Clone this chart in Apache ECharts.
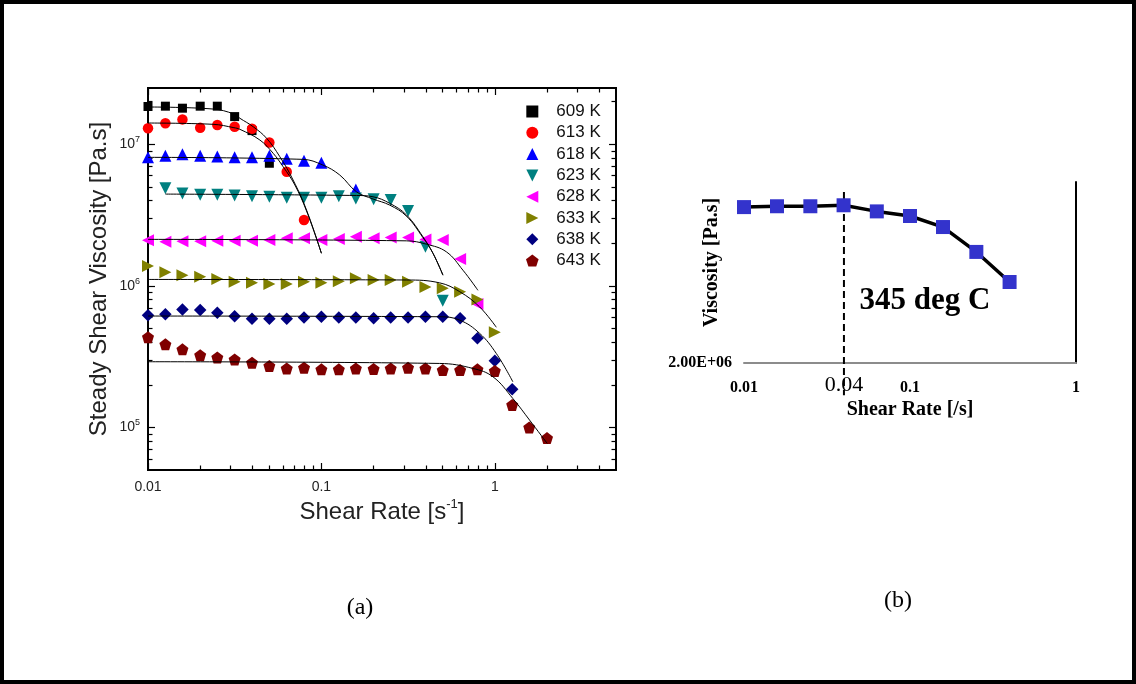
<!DOCTYPE html>
<html>
<head>
<meta charset="utf-8">
<script src="https://cdn.jsdelivr.net/npm/echarts@6/dist/echarts.min.js"></script>
<style>
html, body { margin: 0; padding: 0; background: #fff; }
#main { width: 1136px; height: 684px; }
</style>
</head>
<body>
<div id="main"></div>
<script>
// ---- panel (a): measured points, shear rate grid (s^-1), 10 per decade
var rates = [0.01, 0.0126, 0.0158, 0.02, 0.0251, 0.0316, 0.0398, 0.0501, 0.0631, 0.0794,
             0.1, 0.126, 0.158, 0.2, 0.251, 0.316, 0.398, 0.501, 0.631, 0.794,
             1.0, 1.26, 1.58, 2.0];

// viscosity (Pa.s) per temperature, aligned with rates, null = no point
var visc609 = [1.85e7, 1.86e7, 1.80e7, 1.86e7, 1.86e7, 1.57e7, 1.25e7, 7.35e6];
var visc613 = [1.30e7, 1.41e7, 1.50e7, 1.31e7, 1.37e7, 1.33e7, 1.29e7, 1.03e7, 6.4e6, 2.92e6];
var visc618 = [8.1e6, 8.3e6, 8.5e6, 8.3e6, 8.2e6, 8.1e6, 8.1e6, 8.3e6, 7.9e6, 7.65e6, 7.4e6, null, 4.8e6];
var visc623 = [null, 4.9e6, 4.5e6, 4.4e6, 4.4e6, 4.35e6, 4.3e6, 4.27e6, 4.2e6, 4.2e6, 4.2e6, 4.3e6,
               4.15e6, 4.1e6, 4.05e6, 3.38e6, 1.89e6, 7.85e5];
var visc628 = [2.1e6, 2.05e6, 2.07e6, 2.07e6, 2.08e6, 2.08e6, 2.08e6, 2.11e6, 2.17e6, 2.17e6,
               2.11e6, 2.14e6, 2.22e6, 2.17e6, 2.2e6, 2.2e6, 2.13e6, 2.11e6, 1.55e6, 7.44e5];
var visc633 = [1.38e6, 1.25e6, 1.19e6, 1.16e6, 1.12e6, 1.07e6, 1.05e6, 1.03e6, 1.03e6, 1.07e6,
               1.05e6, 1.08e6, 1.13e6, 1.10e6, 1.10e6, 1.07e6, 9.8e5, 9.6e5, 9.1e5, 8.0e5, 4.7e5];
var visc638 = [6.2e5, 6.3e5, 6.8e5, 6.75e5, 6.45e5, 6.1e5, 5.85e5, 5.85e5, 5.85e5, 5.98e5,
               6.05e5, 5.98e5, 5.98e5, 5.9e5, 5.98e5, 5.98e5, 6.05e5, 6.05e5, 5.9e5, 4.26e5, 2.96e5, 1.86e5];
var visc643 = [4.33e5, 3.86e5, 3.56e5, 3.24e5, 3.12e5, 3.02e5, 2.86e5, 2.72e5, 2.61e5, 2.64e5,
               2.57e5, 2.57e5, 2.61e5, 2.59e5, 2.61e5, 2.64e5, 2.61e5, 2.54e5, 2.54e5, 2.57e5,
               2.5e5, 1.44e5, 1.0e5, 8.4e4];

// fitted model curves
var fitRate609 = [0.01, 0.0237, 0.0313, 0.0339, 0.0404, 0.0483, 0.0576, 0.0687, 0.0821, 0.1];
var fitVisc609 = [1.835e7, 1.776e7, 1.638e7, 1.527e7, 1.332e7, 1.103e7, 8.17e6, 5.59e6, 3.43e6, 1.70e6];
var fitRate613 = [0.01, 0.0237, 0.0313, 0.0339, 0.0442, 0.0527, 0.0602, 0.0703, 0.0821, 0.1];
var fitVisc613 = [1.414e7, 1.385e7, 1.311e7, 1.276e7, 1.072e7, 8.64e6, 6.94e6, 5.16e6, 3.38e6, 1.70e6];
var fitRate618 = [0.01, 0.0781, 0.1019, 0.1276, 0.1593, 0.1985, 0.2477, 0.3093, 0.3853, 0.4399, 0.5023];
var fitVisc618 = [8.09e6, 7.83e6, 7.14e6, 6.07e6, 4.62e6, 4.11e6, 3.72e6, 3.11e6, 2.19e6, 1.70e6, 1.19e6];
var fitRate623 = [0.0126, 0.1593, 0.1985, 0.2477, 0.3093, 0.3853, 0.4399, 0.5023];
var fitVisc623 = [4.45e6, 4.35e6, 4.26e6, 3.83e6, 3.17e6, 2.22e6, 1.70e6, 1.19e6];
var fitRate628 = [0.01, 0.3093, 0.4031, 0.5255, 0.6552, 0.7993];
var fitVisc628 = [2.13e6, 2.08e6, 1.97e6, 1.74e6, 1.29e6, 9.3e5];
var fitRate633 = [0.01, 0.3093, 0.4808, 0.627, 0.8173, 1.02];
var fitVisc633 = [1.11e6, 1.10e6, 1.05e6, 9.1e5, 7.1e5, 5.1e5];
var fitRate638 = [0.01, 0.4808, 0.627, 0.8173, 1.02, 1.271];
var fitVisc638 = [6.12e5, 6.05e5, 5.73e5, 4.62e5, 3.33e5, 2.10e5];
var fitRate643 = [0.01, 0.4808, 0.7477, 0.975, 1.271, 1.587, 2.007];
var fitVisc643 = [2.91e5, 2.83e5, 2.61e5, 2.28e5, 1.60e5, 1.126e5, 7.7e4];

var tempNames = ['609 K', '613 K', '618 K', '623 K', '628 K', '633 K', '638 K', '643 K'];

// axis ticks of panel (a)
var xMajor = [0.01, 0.1, 1];
var xMajorLabels = ['0.01', '0.1', '1'];
var xMinor = [0.02, 0.03, 0.04, 0.05, 0.06, 0.07, 0.08, 0.09,
              0.2, 0.3, 0.4, 0.5, 0.6, 0.7, 0.8, 0.9, 2, 3, 4];
var yMajor = [1e5, 1e6, 1e7];
var yMinor = [6e4, 7e4, 8e4, 9e4, 2e5, 3e5, 4e5, 5e5, 6e5, 7e5, 8e5, 9e5,
              2e6, 3e6, 4e6, 5e6, 6e6, 7e6, 8e6, 9e6, 2e7];

// ---- panel (b): 345 deg C
var ratesB = [0.01, 0.0158, 0.0251, 0.0398, 0.0631, 0.1, 0.158, 0.251, 0.398];
var viscB = [8.0e6, 8.06e6, 8.06e6, 8.13e6, 7.7e6, 7.39e6, 6.7e6, 5.37e6, 4.11e6];
var onsetRate = [0.04, 0.04];
var onsetSpan = [9.15e6, 1.5e6];
var xTicksB = [0.01, 0.04, 0.1, 1];
var xLabelsB = ['0.01', '0.04', '0.1', '1'];
var yTicksB = [2e6];
var yLabelsB = ['2.00E+06'];

function pairs(xs, ys) {
    var out = [];
    for (var i = 0; i < ys.length; i++) {
        if (ys[i] != null) out.push([xs[i], ys[i]]);
    }
    return out;
}
function nearestLabel(v, values, labels) {
    var best = 0;
    for (var i = 1; i < values.length; i++) {
        if (Math.abs(Math.log(values[i] / v)) < Math.abs(Math.log(values[best] / v))) best = i;
    }
    return labels[best];
}

var sans = '"Liberation Sans", Arial, sans-serif';
var serif = '"Liberation Serif", "Times New Roman", serif';

var colors = ['#000000', '#ff0000', '#0000ff', '#008080', '#ff00ff', '#808000', '#000080', '#800000'];
var symbols = [
    'path://M0,0H10V10H0Z',
    'circle',
    'path://M5,0L10,10L0,10Z',
    'path://M0,0L10,0L5,10Z',
    'path://M10,0L10,10L0,5Z',
    'path://M0,0L10,5L0,10Z',
    'path://M5,0L10,5L5,10L0,5Z',
    'path://M5,0L10,3.6L8.1,9.5L1.9,9.5L0,3.6Z'
];
var sizes = [9, 10.5, 12, 12, 12, 12, 12.5, 12];
var allVisc = [visc609, visc613, visc618, visc623, visc628, visc633, visc638, visc643];
var allFitRate = [fitRate609, fitRate613, fitRate618, fitRate623, fitRate628, fitRate633, fitRate638, fitRate643];
var allFitVisc = [fitVisc609, fitVisc613, fitVisc618, fitVisc623, fitVisc628, fitVisc633, fitVisc638, fitVisc643];

function frameAxis(dim, pos, ticks, len, withLabels) {
    var ax = {
        type: 'log',
        logBase: 10,
        gridIndex: 0,
        position: pos,
        min: dim === 'x' ? 0.01 : 5e4,
        max: dim === 'x' ? 5 : 2.5e7,
        axisLine: { show: true, onZero: false, lineStyle: { color: '#000', width: 1.8 } },
        axisTick: { show: true, inside: true, length: len, customValues: ticks,
                    lineStyle: { color: '#000', width: 1.2 } },
        axisLabel: { show: false },
        splitLine: { show: false },
        minorTick: { show: false },
        minorSplitLine: { show: false }
    };
    if (withLabels && dim === 'x') {
        ax.axisLabel = {
            show: true, customValues: xMajor, margin: 10,
            color: '#222', fontFamily: sans, fontSize: 14,
            formatter: function (v) { return nearestLabel(v, xMajor, xMajorLabels); }
        };
        ax.name = 'Shear Rate [s{sup|-1}]';
        ax.nameLocation = 'middle';
        ax.nameGap = 42;
        ax.nameMoveOverlap = false;
        ax.nameTextStyle = {
            color: '#222', fontFamily: sans, fontSize: 24, verticalAlign: 'middle', lineHeight: 28,
            rich: { sup: { fontFamily: sans, fontSize: 13, lineHeight: 12, verticalAlign: 'top', color: '#222' } }
        };
    }
    if (withLabels && dim === 'y') {
        ax.axisLabel = {
            show: true, customValues: yMajor, margin: 8,
            formatter: function (v) { return '{b|10}{s|' + Math.round(Math.log10(v)) + '}'; },
            rich: {
                b: { fontFamily: sans, fontSize: 14, color: '#222', lineHeight: 18 },
                s: { fontFamily: sans, fontSize: 9, color: '#222', lineHeight: 8, verticalAlign: 'top' }
            }
        };
        ax.name = 'Steady Shear Viscosity [Pa.s]';
        ax.nameLocation = 'middle';
        ax.nameGap = 49;
        ax.nameMoveOverlap = false;
        ax.nameTextStyle = { color: '#222', fontFamily: sans, fontSize: 24, verticalAlign: 'middle' };
    }
    return ax;
}

var series = [];
for (var i = 0; i < tempNames.length; i++) {
    series.push({
        name: tempNames[i], type: 'scatter', xAxisIndex: 0, yAxisIndex: 0,
        symbol: symbols[i], symbolSize: sizes[i], z: 2,
        itemStyle: { color: colors[i], opacity: 1 },
        data: pairs(rates, allVisc[i])
    });
}
for (var j = 0; j < tempNames.length; j++) {
    series.push({
        name: 'fit ' + tempNames[j], type: 'line', xAxisIndex: 0, yAxisIndex: 0,
        showSymbol: false, symbol: 'none', smooth: 0.4, z: 3, silent: true,
        lineStyle: { color: '#000', width: 1 },
        data: pairs(allFitRate[j], allFitVisc[j])
    });
}
series.push({
    name: 'onset', type: 'line', xAxisIndex: 4, yAxisIndex: 4, clip: false,
    showSymbol: false, symbol: 'none', silent: true, z: 1,
    lineStyle: { color: '#000', width: 2, type: [7, 4] },
    data: pairs(onsetRate, onsetSpan)
});
series.push({
    name: '345 deg C', type: 'line', xAxisIndex: 4, yAxisIndex: 4,
    symbol: 'rect', symbolSize: 14, showSymbol: true, z: 3,
    lineStyle: { color: '#000', width: 3.5 },
    itemStyle: { color: '#3333cc' },
    data: pairs(ratesB, viscB)
});

var myChart = echarts.init(document.getElementById('main'), null, { renderer: 'canvas' });
var option = {
    animation: false,
    backgroundColor: '#fff',
    grid: [
        { left: 148, top: 88, width: 468, height: 382 },
        { left: 744, top: 182, width: 332, height: 181 }
    ],
    legend: {
        orient: 'vertical', left: 526, top: 103, padding: 0,
        itemWidth: 38, itemHeight: 12, itemGap: 4.3,
        textStyle: { fontFamily: sans, fontSize: 17, color: '#111' },
        data: tempNames.map(function (n, k) { return { name: n, icon: symbols[k] }; })
    },
    xAxis: [
        frameAxis('x', 'bottom', xMajor, 7, true),
        frameAxis('x', 'top', xMajor, 7, false),
        frameAxis('x', 'bottom', xMinor, 4.5, false),
        frameAxis('x', 'top', xMinor, 4.5, false),
        {
            type: 'log', logBase: 10, gridIndex: 1, position: 'bottom', min: 0.01, max: 1,
            axisLine: { show: true, onZero: false, lineStyle: { color: '#8c8c8c', width: 2 } },
            axisTick: { show: false },
            splitLine: { show: false },
            axisLabel: {
                customValues: xTicksB, margin: 33, verticalAlign: 'bottom',
                formatter: function (v) {
                    var t = nearestLabel(v, xTicksB, xLabelsB);
                    return t === '0.04' ? '{m|' + t + '}' : '{t|' + t + '}';
                },
                rich: {
                    t: { fontFamily: serif, fontWeight: 'bold', fontSize: 16, color: '#000' },
                    m: { fontFamily: serif, fontSize: 22, color: '#000' }
                }
            },
            name: 'Shear Rate [/s]', nameLocation: 'middle', nameGap: 47, nameMoveOverlap: false,
            nameTextStyle: { fontFamily: serif, fontWeight: 'bold', fontSize: 20, color: '#000', verticalAlign: 'middle' }
        }
    ],
    yAxis: [
        frameAxis('y', 'left', yMajor, 7, true),
        frameAxis('y', 'right', yMajor, 7, false),
        frameAxis('y', 'left', yMinor, 4.5, false),
        frameAxis('y', 'right', yMinor, 4.5, false),
        {
            type: 'log', logBase: 10, gridIndex: 1, position: 'left', min: 2e6, max: 1e7,
            axisLine: { show: false }, axisTick: { show: false }, splitLine: { show: false },
            axisLabel: {
                customValues: yTicksB, margin: 12,
                fontFamily: serif, fontWeight: 'bold', fontSize: 16, color: '#000',
                formatter: function (v) { return nearestLabel(v, yTicksB, yLabelsB); }
            },
            name: 'Viscosity [Pa.s]', nameLocation: 'middle', nameGap: 32, nameMoveOverlap: false,
            nameTextStyle: { fontFamily: serif, fontWeight: 'bold', fontSize: 20, color: '#000',
                             verticalAlign: 'middle', padding: [0, 0, 0, 20] }
        },
        {
            type: 'log', logBase: 10, gridIndex: 1, position: 'right', min: 2e6, max: 1e7,
            axisLine: { show: true, onZero: false, lineStyle: { color: '#000', width: 2 } },
            axisTick: { show: false }, axisLabel: { show: false }, splitLine: { show: false }
        }
    ],
    graphic: [
        { type: 'rect', silent: true, shape: { x: 2, y: 2, width: 1132, height: 680 },
          style: { fill: 'none', stroke: '#000', lineWidth: 4 } },
        { type: 'text', silent: true, x: 360, y: 608,
          style: { text: '(a)', font: '24px ' + serif, fill: '#000', align: 'center', verticalAlign: 'middle' } },
        { type: 'text', silent: true, x: 898, y: 601,
          style: { text: '(b)', font: '24px ' + serif, fill: '#000', align: 'center', verticalAlign: 'middle' } },
        { type: 'text', silent: true, x: 925, y: 301,
          style: { text: '345 deg C', font: 'bold 31px ' + serif, fill: '#000', align: 'center', verticalAlign: 'middle' } }
    ],
    series: series
};
myChart.setOption(option, true);
</script>
</body>
</html>
